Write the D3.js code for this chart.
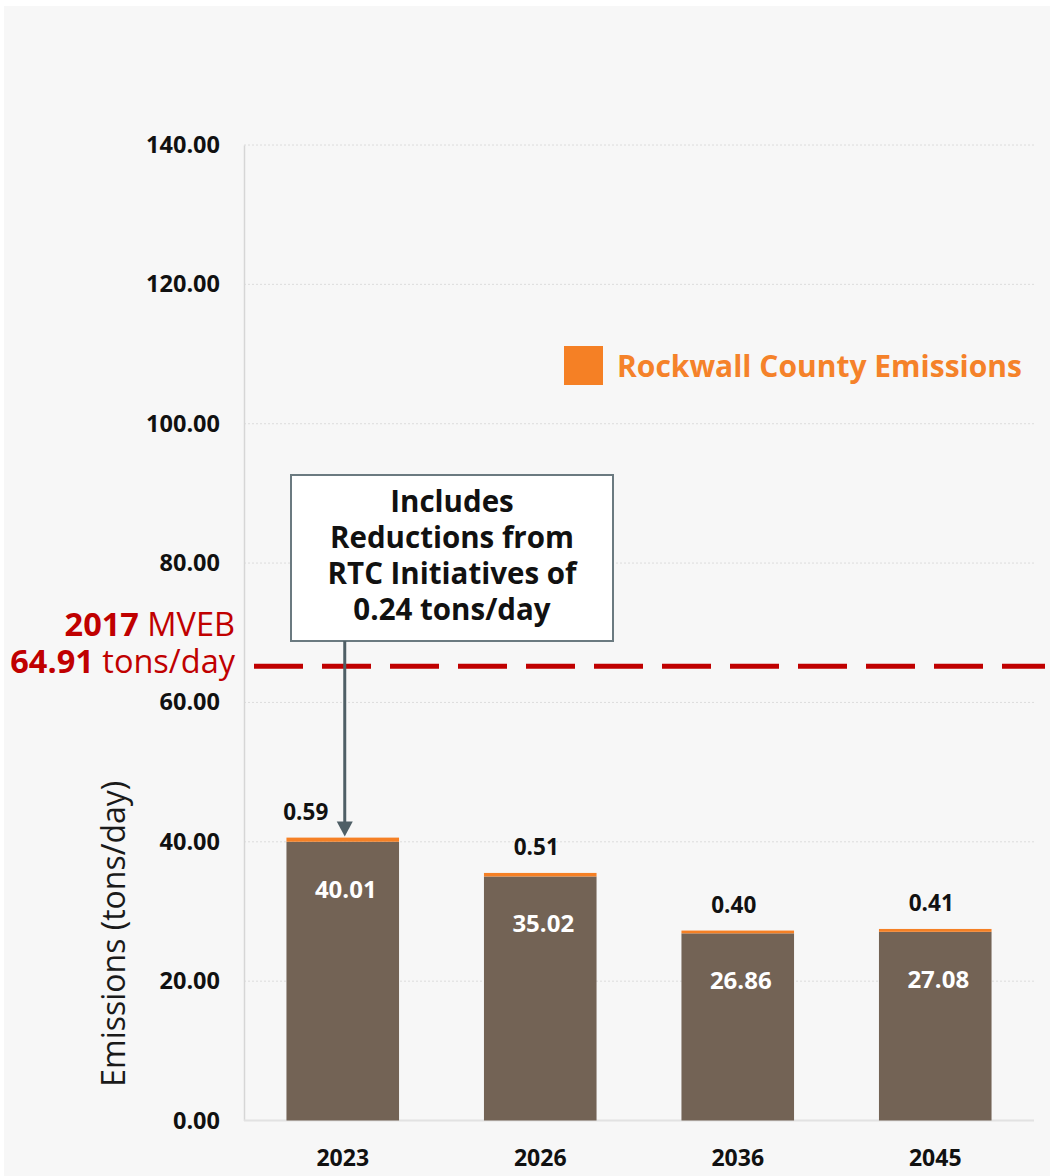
<!DOCTYPE html>
<html>
<head>
<meta charset="utf-8">
<script src="https://cdn.jsdelivr.net/npm/d3@7"></script>
<style>
  html, body { margin: 0; padding: 0; background: #ffffff; }
  svg { display: block; font-family: "Open Sans", "Noto Sans", sans-serif; }
</style>
</head>
<body>
<svg id="chart" width="1050" height="1176"></svg>
<script>
// ---- data ----
const years = ["2023", "2026", "2036", "2045"];
const baseEmissions = [40.01, 35.02, 26.86, 27.08];
const rockwallEmissions = [0.59, 0.51, 0.40, 0.41];
const yTicks = [0, 20, 40, 60, 80, 100, 120, 140];
const mvebValue = 64.91;
const mvebYear = "2017";
const legendLabel = "Rockwall County Emissions";
const yAxisTitle = "Emissions (tons/day)";
const calloutLines = ["Includes", "Reductions from", "RTC Initiatives of", "0.24 tons/day"];

// ---- setup ----
const svg = d3.select("#chart");
const W = 1050, H = 1176;
const plot = { left: 244, right: 1034, top: 145, bottom: 1120.5 };

svg.append("rect").attr("x", 4).attr("y", 6).attr("width", W - 4).attr("height", H - 6)
  .attr("fill", "#f7f7f7");

const x = d3.scaleBand().domain(years).range([plot.left, plot.right])
  .paddingInner(0.43).paddingOuter(0.215);
const y = d3.scaleLinear().domain([0, 140]).range([plot.bottom, plot.top]);

// gridlines
svg.append("g").selectAll("line").data(yTicks.filter(d => d > 0)).join("line")
  .attr("x1", plot.left).attr("x2", plot.right + 2)
  .attr("y1", d => y(d)).attr("y2", d => y(d))
  .attr("stroke", "#dcdcdc").attr("stroke-width", 1).attr("stroke-dasharray", "2,2");

// y axis
const yAxis = d3.axisLeft(y).tickValues(yTicks).tickFormat(d3.format(".2f")).tickSize(0).tickPadding(24);
const gy = svg.append("g").attr("transform", `translate(${plot.left},0)`).call(yAxis);
gy.select(".domain").attr("stroke", "#d6d6d6").attr("stroke-width", 1.5);
gy.selectAll("text").attr("font-size", 23.5).attr("font-weight", 700).attr("fill", "#111")
  .attr("font-family", "'Open Sans', sans-serif");

// x axis
const xAxis = d3.axisBottom(x).tickSize(0).tickPadding(28);
const gx = svg.append("g").attr("transform", `translate(0,${plot.bottom})`).call(xAxis);
gx.select(".domain").attr("stroke", "#e2e2e2").attr("stroke-width", 2)
  .attr("d", `M${plot.left},0H${plot.right}`);
gx.selectAll("text").attr("font-size", 23).attr("font-weight", 700).attr("fill", "#111")
  .attr("font-family", "'Open Sans', sans-serif").attr("dy", "0.75em");

// bars
const rows = years.map((yr, i) => ({ yr, base: baseEmissions[i], top: rockwallEmissions[i], i }));
svg.append("g").selectAll("rect").data(rows).join("rect")
  .attr("x", d => x(d.yr)).attr("width", x.bandwidth())
  .attr("y", d => y(d.base)).attr("height", d => y(0) - y(d.base))
  .attr("fill", "#736355");
svg.append("g").selectAll("rect").data(rows).join("rect")
  .attr("x", d => x(d.yr)).attr("width", x.bandwidth())
  .attr("y", d => y(d.base + d.top)).attr("height", d => y(d.base) - y(d.base + d.top))
  .attr("fill", "#f58025");

// value labels (inside bars, white)
svg.append("g").selectAll("text").data(rows).join("text")
  .attr("x", d => x(d.yr) + x.bandwidth() / 2 + 3)
  .attr("y", d => y(d.base) + 56)
  .attr("text-anchor", "middle").attr("font-size", 24).attr("font-weight", 700)
  .attr("fill", "#ffffff").text(d => d.base.toFixed(2));

// value labels (above bars, black)
svg.append("g").selectAll("text").data(rows).join("text")
  .attr("x", d => x(d.yr) + x.bandwidth() / 2 + (d.i === 0 ? -37 : -4))
  .attr("y", d => y(d.base + d.top) - 18)
  .attr("text-anchor", "middle").attr("font-size", 22.5).attr("font-weight", 700)
  .attr("fill", "#111").text(d => d.top.toFixed(2));

// MVEB dashed line
svg.append("line")
  .attr("x1", plot.left + 10).attr("x2", W - 5)
  .attr("y1", y(mvebValue) - 2).attr("y2", y(mvebValue) - 2)
  .attr("stroke", "#c00000").attr("stroke-width", 5).attr("stroke-dasharray", "49,19");

const mveb = svg.append("text").attr("text-anchor", "end").attr("fill", "#c00000")
  .attr("font-size", 32.5);
const l1 = mveb.append("tspan").attr("x", 235).attr("y", 636);
l1.append("tspan").attr("font-weight", 700).text(mvebYear);
l1.append("tspan").attr("font-weight", 400).text(" MVEB");
const l2 = mveb.append("tspan").attr("x", 235).attr("y", 673);
l2.append("tspan").attr("font-weight", 700).text(mvebValue.toFixed(2));
l2.append("tspan").attr("font-weight", 400).text(" tons/day");

// y axis title
svg.append("text")
  .attr("transform", `translate(125,${(plot.top + plot.bottom) / 2 + 301}) rotate(-90)`)
  .attr("text-anchor", "middle").attr("font-size", 32).attr("font-weight", 400)
  .attr("fill", "#1a1a1a").text(yAxisTitle);

// legend
svg.append("rect").attr("x", 564).attr("y", 346).attr("width", 39).attr("height", 39)
  .attr("fill", "#f58025");
svg.append("text").attr("x", 617).attr("y", 377).attr("font-size", 30).attr("font-weight", 700)
  .attr("fill", "#f5822a").text(legendLabel);

// callout box + arrow
const box = { x: 291, y: 475, w: 322, h: 166 };
svg.append("rect").attr("x", box.x).attr("y", box.y).attr("width", box.w).attr("height", box.h)
  .attr("fill", "#ffffff").attr("stroke", "#6b7a80").attr("stroke-width", 2);
svg.append("g").selectAll("text").data(calloutLines).join("text")
  .attr("x", box.x + box.w / 2).attr("y", (d, i) => box.y + 37 + i * 36)
  .attr("text-anchor", "middle").attr("font-size", 29.5).attr("font-weight", 700)
  .attr("fill", "#111").text(d => d);

const ax = x(years[0]) + x.bandwidth() / 2 + 2;
const tipY = y(baseEmissions[0] + rockwallEmissions[0]) - 1;
svg.append("line").attr("x1", ax).attr("x2", ax).attr("y1", box.y + box.h).attr("y2", tipY - 14)
  .attr("stroke", "#4f5f66").attr("stroke-width", 3);
svg.append("path")
  .attr("d", `M${ax - 8},${tipY - 15}L${ax + 8},${tipY - 15}L${ax},${tipY}Z`)
  .attr("fill", "#4f5f66");
</script>
</body>
</html>
